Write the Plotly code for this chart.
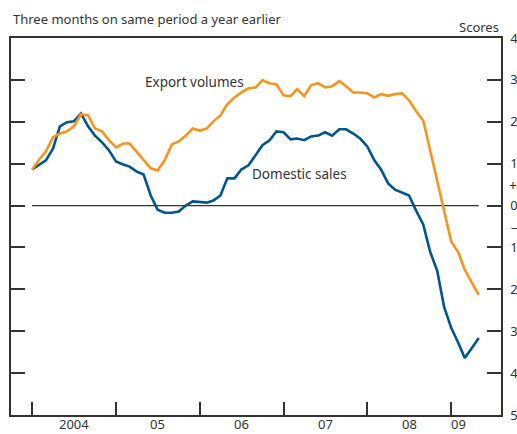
import plotly.graph_objects as go
import pandas as pd

months = pd.date_range("2004-01-01", periods=65, freq="MS")

domestic_sales = [8.6, 9.8, 10.8, 13.6, 18.9, 19.9, 20.1, 22.0, 18.9, 16.7, 15.1, 13.2,
                  10.5, 9.8, 9.3, 8.1, 7.4, 2.4, -1.0, -1.7, -1.7, -1.4, 0.0, 1.0,
                  0.8, 0.7, 1.2, 2.4, 6.5, 6.5, 8.6, 9.6, 12.0, 14.4, 15.6, 17.7,
                  17.5, 15.8, 16.0, 15.6, 16.5, 16.7, 17.5, 16.7, 18.2, 18.2, 17.2, 16.0,
                  14.1, 10.8, 8.6, 5.3, 3.8, 3.1, 2.4, -1.2, -4.5, -11.0, -15.6, -24.2,
                  -29.2, -32.8, -36.4, -34.0, -31.6]

export_volumes = [8.6, 11.0, 12.9, 16.3, 17.2, 17.7, 18.9, 21.8, 21.5, 18.4, 17.7, 15.6,
                  13.9, 14.8, 14.8, 12.9, 10.8, 8.9, 8.4, 10.8, 14.6, 15.3, 16.7, 18.4,
                  17.9, 18.4, 20.1, 21.5, 24.2, 25.8, 27.0, 28.0, 28.2, 29.9, 29.2, 28.9,
                  26.3, 26.1, 27.8, 26.1, 28.7, 29.2, 28.2, 28.5, 29.7, 28.5, 27.0, 27.0,
                  26.8, 25.8, 26.6, 26.2, 26.6, 26.8, 25.1, 22.5, 20.3, 13.2, 6.5, -0.5,
                  -8.6, -11.2, -15.3, -18.4, -21.3]

year_ticks = ["2004-01-01", "2005-01-01", "2006-01-01", "2007-01-01", "2008-01-01", "2009-01-01"]
year_label_pos = ["2004-07-01", "2005-07-01", "2006-07-01", "2007-07-01", "2008-07-01", "2009-02-03"]
year_labels = ["2004", "05", "06", "07", "08", "09"]

y_ticks = [-50, -40, -30, -20, -10, 0, 10, 20, 30, 40]
y_ticktext = ["50", "40", "30", "20", "10", "0", "10", "20", "30", "40"]

BLUE = "#00558C"
ORANGE = "#F7941D"
GREY = "#333333"
FONT = "Noto Sans"

fig = go.Figure()
fig.add_trace(go.Scatter(x=months, y=domestic_sales, mode="lines",
                         line=dict(color=BLUE, width=2.6), name="Domestic sales"))
fig.add_trace(go.Scatter(x=months, y=export_volumes, mode="lines",
                         line=dict(color=ORANGE, width=2.6), name="Export volumes"))

fig.add_shape(type="line", xref="x", yref="y", x0=months[0], x1=months[-1], y0=0, y1=0,
              line=dict(color=GREY, width=1.2), layer="below")

annotations = []
for pos, lab in zip(year_label_pos, year_labels):
    annotations.append(dict(x=pos, y=0, xref="x", yref="paper", text=lab, showarrow=False,
                            yanchor="top", yshift=2, font=dict(size=13, color=GREY, family=FONT)))
annotations += [
    dict(x=0, y=1, xref="paper", yref="paper", yshift=8, text="Three months on same period a year earlier",
         showarrow=False, xanchor="left", yanchor="bottom", font=dict(size=13, color=GREY, family=FONT)),
    dict(x=1, y=1, xref="paper", yref="paper", text="Scores", showarrow=False,
         xanchor="right", yanchor="bottom", font=dict(size=13, color=GREY, family=FONT)),
    dict(x="2005-04-27", y=29.5, xref="x", yref="y", text="Export volumes", showarrow=False,
         xanchor="left", font=dict(size=13.5, color=GREY, family=FONT)),
    dict(x="2006-08-06", y=7.6, xref="x", yref="y", text="Domestic sales", showarrow=False,
         xanchor="left", font=dict(size=13.5, color=GREY, family=FONT)),
    dict(x=1, y=4.8, xref="paper", yref="y", text="+", showarrow=False, xanchor="left",
         xshift=6, font=dict(size=14, color=GREY, family=FONT)),
    dict(x=1, y=-5.2, xref="paper", yref="y", text="\u2013", showarrow=False, xanchor="left",
         xshift=8, font=dict(size=13, color=GREY, family=FONT)),
]

fig.update_layout(
    width=517, height=434,
    margin=dict(l=11, r=16, t=38, b=19),
    paper_bgcolor="white", plot_bgcolor="white",
    showlegend=False,
    annotations=annotations,
    xaxis=dict(type="date", range=["2003-10-01", "2009-08-06"],
               tickvals=year_ticks, showticklabels=False, automargin=False,
               ticks="inside", ticklen=13, tickwidth=1.5, tickcolor=GREY,
               showline=True, linecolor=GREY, linewidth=1.5, mirror=True,
               showgrid=False, zeroline=False),
    yaxis=dict(range=[-50, 40], side="right", tickvals=y_ticks, ticktext=y_ticktext,
               automargin=False, ticklabelstandoff=5,
               ticks="inside", ticklen=14, tickwidth=1.5, tickcolor=GREY,
               showline=True, linecolor=GREY, linewidth=1.5, mirror="ticks",
               showgrid=False, zeroline=False,
               tickfont=dict(size=13, color=GREY, family=FONT)),
)

fig.write_html("out.html", config={"displayModeBar": False},
               post_script="document.body.style.margin='0';document.body.style.overflow='hidden';")
